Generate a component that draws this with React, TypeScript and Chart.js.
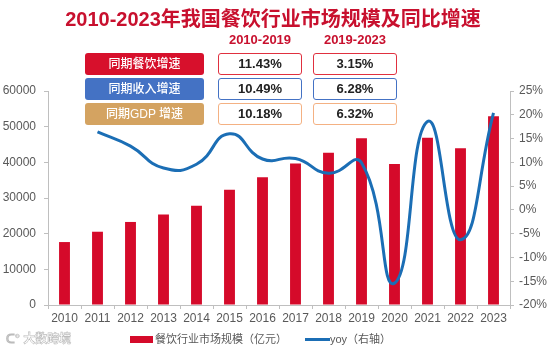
import React, { useEffect, useRef } from "react";
import { Chart, registerables } from "chart.js";

Chart.register(...registerables);

const years = ["2010", "2011", "2012", "2013", "2014", "2015", "2016", "2017", "2018", "2019", "2020", "2021", "2022", "2023"];
const marketSize = [17648, 20543, 23283, 25392, 27860, 32310, 35799, 39644, 42716, 46721, 39527, 46895, 43941, 52890];
const yoy = [null, 16.4, 13.4, 8.8, 9.6, 16.0, 10.7, 10.8, 7.7, 9.9, -15.4, 18.6, -6.3, 20.4];

const tableHeaders = ["2010-2019", "2019-2023"];
const rowLabels = ["同期餐饮增速", "同期收入增速", "同期GDP 增速"];
const rowValues1019 = ["11.43%", "10.49%", "10.18%"];
const rowValues1923 = ["3.15%", "6.28%", "6.32%"];

const titleText = "2010-2023年我国餐饮行业市场规模及同比增速";
const barLabel = "餐饮行业市场规模（亿元）";
const lineLabel = "yoy（右轴）";

const RED = "#D50A2A";
const BLUE = "#1B6EB5";
const rowFill = ["#D7102C", "#4472C4", "#D4A361"];
const rowBorder = ["#E0303F", "#4472C4", "#F4B183"];
const FONT = '"Liberation Sans", Arial, "Noto Sans CJK SC", sans-serif';
const AXIS = "#BFBFBF";
const TICK = "#595959";

export default function App() {
  const ref = useRef<HTMLCanvasElement>(null);

  useEffect(() => {
    document.body.style.margin = "0";
    const ctx = ref.current!.getContext("2d")!;
    const chart = new Chart(ctx, {
      type: "bar",
      data: {
        labels: years,
        datasets: [
          {
            type: "line",
            label: lineLabel,
            data: yoy as any,
            yAxisID: "y1",
            borderColor: BLUE,
            backgroundColor: BLUE,
            borderWidth: 3,
            pointRadius: 0,
            tension: 0.5,
            order: 0,
          } as any,
          {
            type: "bar",
            label: barLabel,
            data: marketSize,
            yAxisID: "y",
            backgroundColor: RED,
            barPercentage: 0.33,
            categoryPercentage: 1,
            order: 1,
          },
        ],
      },
      options: {
        responsive: false,
        animation: false,
        layout: { padding: { top: 91, bottom: 24, left: 0, right: 0 } },
        plugins: { legend: { display: false }, title: { display: false }, tooltip: { enabled: false } },
        scales: {
          x: {
            grid: { display: true, drawOnChartArea: false, drawTicks: true, tickLength: 4, color: AXIS },
            border: { display: true, color: AXIS },
            ticks: { color: TICK, font: { family: FONT, size: 12 }, padding: 2, maxRotation: 0, autoSkip: false },
            afterFit: (s: any) => { s.height = 21; },
          },
          y: {
            position: "left",
            min: 0,
            max: 60000,
            grid: { display: true, drawOnChartArea: false, drawTicks: true, tickLength: 4, color: AXIS },
            border: { display: true, color: AXIS },
            ticks: { stepSize: 10000, color: TICK, font: { family: FONT, size: 12 }, padding: 8, callback: (v: any) => String(v) },
            afterFit: (s: any) => { s.width = 48; },
          },
          y1: {
            position: "right",
            min: -20,
            max: 25,
            grid: { display: true, drawOnChartArea: false, drawTicks: true, tickLength: 4, color: AXIS },
            border: { display: true, color: AXIS },
            ticks: { stepSize: 5, color: TICK, font: { family: FONT, size: 12 }, padding: 5, callback: (v: any) => v + "%" },
            afterFit: (s: any) => { s.width = 43; },
          },
        },
      },
    });
    return () => chart.destroy();
  }, []);

  const abs = (l: number, t: number, w: number, h: number): React.CSSProperties => ({
    position: "absolute", left: l, top: t, width: w, height: h, boxSizing: "border-box",
  });

  const rowTops = [53, 78, 103];
  const rowH = 22;

  return (
    <div style={{ position: "fixed", left: 0, top: 0, width: 553, height: 350, background: "#fff", fontFamily: FONT }}>
      <canvas ref={ref} width={553} height={350} style={{ position: "absolute", left: 0, top: 0 }} />
      <div style={{ ...abs(0, 5, 546, 28), textAlign: "center", color: "#C8102E", fontWeight: "bold", fontSize: 20, lineHeight: "28px" }}>
        {titleText}
      </div>
      {tableHeaders.map((h, i) => (
        <div key={h} style={{ ...abs(i === 0 ? 218 : 313, 32, 84, 16), textAlign: "center", color: "#C8102E", fontWeight: "bold", fontSize: 13, lineHeight: "16px" }}>
          {h}
        </div>
      ))}
      {rowLabels.map((lab, i) => (
        <React.Fragment key={lab}>
          <div style={{ ...abs(85, rowTops[i], 119, rowH), background: rowFill[i], borderRadius: 3, color: "#fff", fontSize: 12, fontWeight: 500, lineHeight: rowH + "px", textAlign: "center" }}>
            {lab}
          </div>
          <div style={{ ...abs(218, rowTops[i], 84, rowH), border: `1.5px solid ${rowBorder[i]}`, borderRadius: 3, background: "#fff", color: "#222", fontWeight: "bold", fontSize: 13, lineHeight: rowH - 3 + "px", textAlign: "center" }}>
            {rowValues1019[i]}
          </div>
          <div style={{ ...abs(313, rowTops[i], 84, rowH), border: `1.5px solid ${rowBorder[i]}`, borderRadius: 3, background: "#fff", color: "#222", fontWeight: "bold", fontSize: 13, lineHeight: rowH - 3 + "px", textAlign: "center" }}>
            {rowValues1923[i]}
          </div>
        </React.Fragment>
      ))}
      <div style={{ ...abs(130, 336, 23, 7), background: RED }} />
      <div style={{ ...abs(155, 331, 140, 16), color: TICK, fontSize: 11, lineHeight: "16px", whiteSpace: "nowrap" }}>{barLabel}</div>
      <div style={{ ...abs(305, 338, 25, 3), background: BLUE }} />
      <div style={{ ...abs(330, 331, 80, 16), color: TICK, fontSize: 11, lineHeight: "16px", whiteSpace: "nowrap" }}>{lineLabel}</div>
      <div style={{ ...abs(6, 331, 80, 16), color: "#fff", WebkitTextStroke: "0.6px #BBBBBB", fontSize: 12, lineHeight: "16px", whiteSpace: "nowrap", fontWeight: "bold" } as any}>
        ᑕ° 大数跨境
      </div>
    </div>
  );
}
